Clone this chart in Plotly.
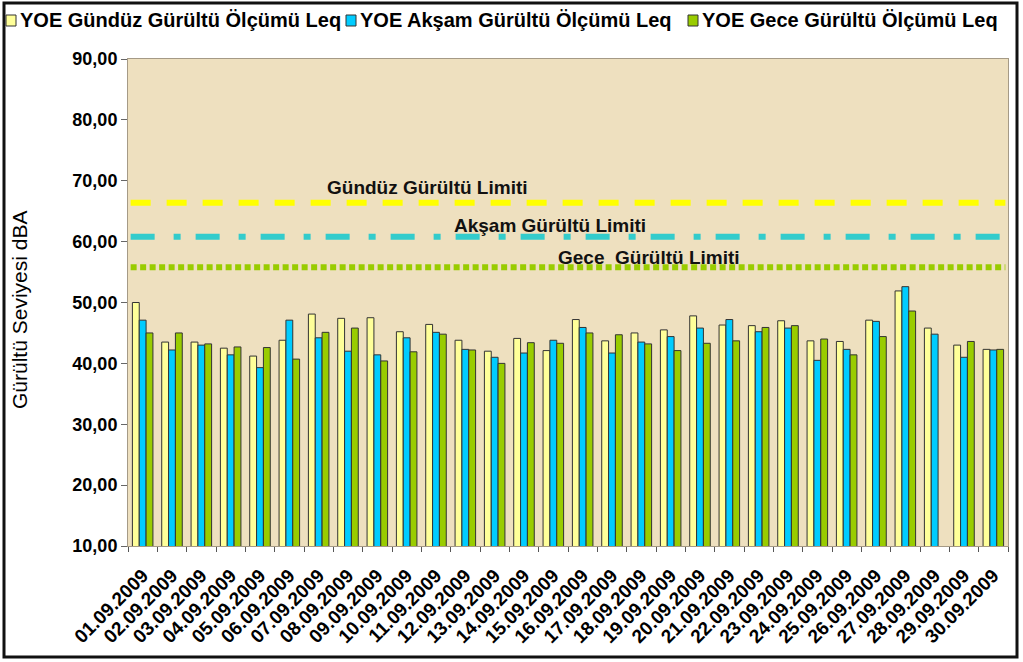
import plotly.graph_objects as go

dates = ["01.09.2009", "02.09.2009", "03.09.2009", "04.09.2009", "05.09.2009",
         "06.09.2009", "07.09.2009", "08.09.2009", "09.09.2009", "10.09.2009",
         "11.09.2009", "12.09.2009", "13.09.2009", "14.09.2009", "15.09.2009",
         "16.09.2009", "17.09.2009", "18.09.2009", "19.09.2009", "20.09.2009",
         "21.09.2009", "22.09.2009", "23.09.2009", "24.09.2009", "25.09.2009",
         "26.09.2009", "27.09.2009", "28.09.2009", "29.09.2009", "30.09.2009"]

gunduz = [50.0, 43.5, 43.5, 42.5, 41.2, 43.8, 48.1, 47.4, 47.5, 45.2,
          46.4, 43.8, 42.0, 44.1, 42.1, 47.2, 43.7, 45.0, 45.5, 47.8,
          46.3, 46.2, 47.0, 43.7, 43.6, 47.1, 51.9, 45.8, 43.0, 42.3]
aksam = [47.1, 42.2, 43.0, 41.4, 39.3, 47.1, 44.2, 42.0, 41.4, 44.2,
         45.1, 42.3, 41.0, 41.7, 43.8, 45.9, 41.7, 43.5, 44.4, 45.8,
         47.2, 45.2, 45.8, 40.5, 42.3, 46.9, 52.6, 44.8, 41.0, 42.2]
gece = [45.0, 45.0, 43.2, 42.7, 42.6, 40.7, 45.1, 45.8, 40.4, 41.9,
        44.8, 42.2, 40.0, 43.4, 43.3, 45.0, 44.7, 43.2, 42.1, 43.3,
        43.7, 45.9, 46.2, 44.0, 41.4, 44.4, 48.6, None, 43.6, 42.3]

series_names = ["YOE Gündüz Gürültü Ölçümü Leq",
                "YOE Akşam Gürültü Ölçümü Leq",
                "YOE Gece Gürültü Ölçümü Leq"]
series_colors = ["#FFFF99", "#00CCFF", "#99CC00"]

limit_values = [66.4, 60.8, 55.8]
limit_labels = ["Gündüz Gürültü Limiti", "Akşam Gürültü Limiti", "Gece\u00a0 Gürültü Limiti"]
limit_colors = ["#FFFF00", "#33CCCC", "#99CC00"]
limit_dash = ["20px,16px", "24px,19px,7px,15px", "6px,3.5px"]
limit_label_x = [427, 550, 649]   # px
limit_label_y = [68.9, 62.7, 57.4]

FONT = "Liberation Sans, Arial, sans-serif"
W, H = 1023, 662
L, R, T, B = 128, 15, 59, 116
PW, PH = W - L - R, H - T - B


def px_x(px):
    return (px - L) / PW


def px_y(py):
    return (H - B - py) / PH


fig = go.Figure()
for name, vals, col in zip(series_names, [gunduz, aksam, gece], series_colors):
    fig.add_trace(go.Bar(x=dates, y=vals, name=name,
                         marker=dict(color=col, line=dict(color="#333333", width=1)),
                         showlegend=False))

shapes = []
annotations = []
for v, lab, col, d, lx, ly in zip(limit_values, limit_labels, limit_colors, limit_dash,
                                   limit_label_x, limit_label_y):
    shapes.append(dict(type="line", xref="paper", yref="y", x0=0.003, x1=0.997, y0=v, y1=v,
                       line=dict(color=col, width=6, dash=d), layer="above"))
    annotations.append(dict(text=lab, xref="paper", yref="y", x=px_x(lx), y=ly,
                            showarrow=False, xanchor="center", yanchor="middle",
                            font=dict(family=FONT, size=19, color="#111111", weight="bold")))

# outer frame
shapes.append(dict(type="rect", xref="paper", yref="paper",
                   x0=px_x(4), x1=px_x(1017), y0=px_y(657), y1=px_y(3),
                   line=dict(color="#111111", width=3), fillcolor="rgba(0,0,0,0)"))

# manual legend
legend_sq_x = [6, 346, 688]
legend_txt_x = [18, 358, 700]
for sx, tx, name, col in zip(legend_sq_x, legend_txt_x, series_names, series_colors):
    shapes.append(dict(type="rect", xref="paper", yref="paper",
                       x0=px_x(sx), x1=px_x(sx + 10), y0=px_y(26), y1=px_y(15),
                       line=dict(color="#333333", width=1), fillcolor=col))
    annotations.append(dict(text=name, xref="paper", yref="paper", x=px_x(tx), y=px_y(20.5),
                            showarrow=False, xanchor="left", yanchor="middle",
                            font=dict(family=FONT, size=20, color="#000000", weight="bold")))

# y axis title
annotations.append(dict(text="Gürültü Seviyesi dBA", xref="paper", yref="paper",
                        x=px_x(19), y=px_y(310), textangle=-90, showarrow=False,
                        xanchor="center", yanchor="middle",
                        font=dict(family=FONT, size=21, color="#000000")))

fig.update_layout(
    width=W, height=H,
    margin=dict(l=L, r=R, t=T, b=B),
    paper_bgcolor="#FFFFFF",
    plot_bgcolor="#EEE0BF",
    barmode="group", bargap=0.3, bargroupgap=0,
    separators=", ",
    shapes=shapes, annotations=annotations,
    showlegend=False,
    font=dict(family=FONT, color="#000000"),
)
fig.update_xaxes(type="category", tickangle=-45, ticks="outside", ticklen=5,
                 tickcolor="#555555", tickson="boundaries", ticklabelstandoff=10,
                 showline=True, linecolor="#A59A86", linewidth=1, mirror=True,
                 tickfont=dict(family=FONT, size=19, color="#000000", weight="bold"),
                 showgrid=False)
fig.update_yaxes(range=[10, 90], dtick=10, tick0=10, tickformat=".2f",
                 ticks="outside", ticklen=6, tickcolor="#666666",
                 showline=True, linecolor="#A59A86", linewidth=1, mirror=True,
                 showgrid=False, zeroline=False,
                 tickfont=dict(family=FONT, size=18, color="#000000", weight="bold"))

fig.write_html("out.html")
